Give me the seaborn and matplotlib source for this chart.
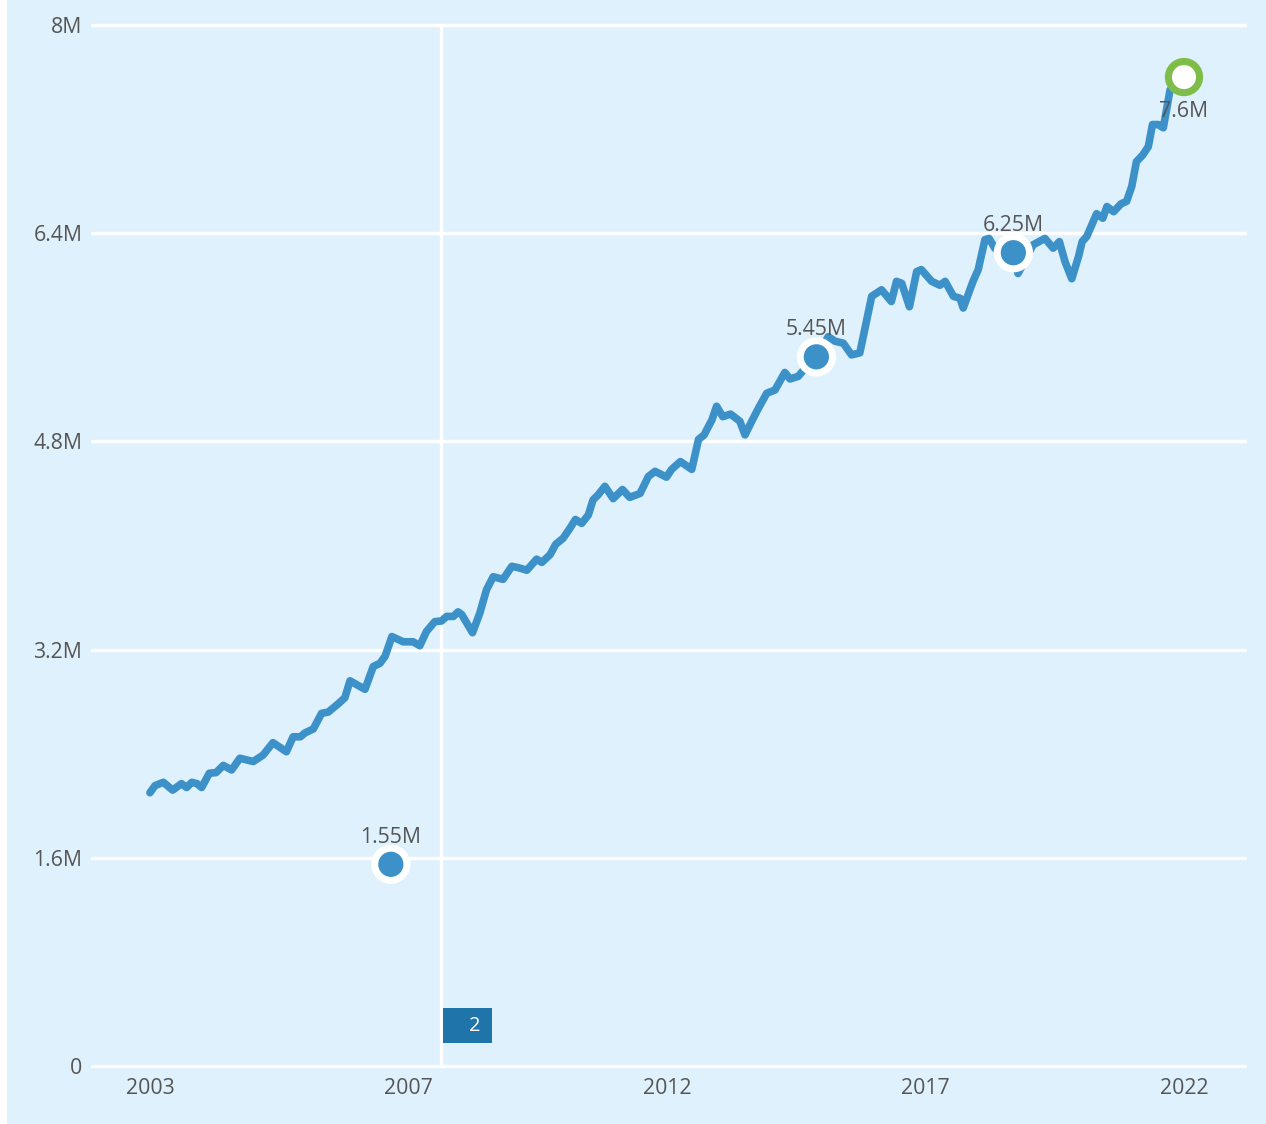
"""
Recreation of a time-series line chart with highlighted points.
"""

import matplotlib
matplotlib.use('Agg')
import matplotlib.pyplot as plt
from matplotlib.patches import Rectangle
from matplotlib.ticker import FixedLocator
import seaborn as sns
import pandas as pd

# Series (decimal year, value in millions)
years = [
    2002.00, 2002.10, 2002.26, 2002.44, 2002.61, 2002.71, 2002.81, 2002.91, 2003.00, 2003.15,
    2003.28, 2003.42, 2003.58, 2003.74, 2004.00, 2004.19, 2004.38, 2004.64, 2004.77, 2004.91,
    2005.00, 2005.16, 2005.32, 2005.45, 2005.66, 2005.77, 2005.87, 2006.16, 2006.32, 2006.45,
    2006.55, 2006.68, 2006.90, 2007.09, 2007.22, 2007.35, 2007.51, 2007.64, 2007.74, 2007.87,
    2007.96, 2008.03, 2008.24, 2008.38, 2008.51, 2008.64, 2008.83, 2009.00, 2009.12, 2009.29,
    2009.48, 2009.58, 2009.74, 2009.85, 2009.99, 2010.12, 2010.23, 2010.35, 2010.48, 2010.57,
    2010.67, 2010.80, 2010.96, 2011.14, 2011.28, 2011.48, 2011.64, 2011.77, 2011.99, 2012.09,
    2012.26, 2012.48, 2012.61, 2012.72, 2012.77, 2012.87, 2012.96, 2013.08, 2013.23, 2013.41,
    2013.51, 2013.64, 2013.77, 2013.93, 2014.09, 2014.28, 2014.38, 2014.54, 2014.70, 2014.89,
    2015.12, 2015.25, 2015.41, 2015.57, 2015.73, 2015.96, 2016.15, 2016.34, 2016.44, 2016.54,
    2016.69, 2016.83, 2016.92, 2017.12, 2017.28, 2017.38, 2017.54, 2017.67, 2017.73, 2017.92,
    2018.02, 2018.15, 2018.23, 2018.34, 2018.53, 2018.70, 2018.79, 2019.08, 2019.31, 2019.47,
    2019.59, 2019.70, 2019.83, 2019.96, 2020.03, 2020.12, 2020.31, 2020.43, 2020.51, 2020.64,
    2020.78, 2020.89, 2020.99, 2021.08, 2021.20, 2021.31, 2021.39, 2021.50, 2021.60, 2021.73,
    2022.00,
]
values = [
    2.10, 2.155, 2.18, 2.12, 2.17, 2.14, 2.18, 2.17, 2.14, 2.25,
    2.255, 2.31, 2.275, 2.365, 2.34, 2.39, 2.485, 2.415, 2.53, 2.53,
    2.56, 2.59, 2.71, 2.72, 2.79, 2.83, 2.96, 2.895, 3.07, 3.095,
    3.15, 3.30, 3.26, 3.26, 3.23, 3.34, 3.415, 3.42, 3.455, 3.455,
    3.49, 3.47, 3.33, 3.48, 3.66, 3.76, 3.74, 3.84, 3.83, 3.81,
    3.895, 3.87, 3.93, 4.01, 4.055, 4.13, 4.20, 4.17, 4.235, 4.35,
    4.39, 4.455, 4.36, 4.43, 4.37, 4.40, 4.53, 4.57, 4.525, 4.585,
    4.645, 4.585, 4.815, 4.85, 4.89, 4.965, 5.07, 4.99, 5.01, 4.955,
    4.85, 4.955, 5.055, 5.17, 5.195, 5.33, 5.28, 5.30, 5.375, 5.45,
    5.605, 5.57, 5.555, 5.465, 5.48, 5.915, 5.965, 5.875, 6.03, 6.015,
    5.835, 6.105, 6.12, 6.03, 6.00, 6.03, 5.915, 5.90, 5.825, 6.03,
    6.12, 6.35, 6.36, 6.285, 6.22, 6.20, 6.09, 6.31, 6.36, 6.285,
    6.335, 6.18, 6.05, 6.22, 6.335, 6.375, 6.55, 6.515, 6.605, 6.565,
    6.625, 6.645, 6.76, 6.95, 7.00, 7.065, 7.235, 7.235, 7.21, 7.50,
    7.60,
]

# Highlighted points
point_years = [2006.66, 2014.89, 2018.70]
point_values = [1.55, 5.45, 6.25]
point_labels = ['1.55M', '5.45M', '6.25M']
last_year = 2022.00
last_value = 7.60
last_label = '7.6M'

# Axis ticks
y_ticks = [0, 1.6, 3.2, 4.8, 6.4, 8.0]
y_tick_labels = ['0', '1.6M', '3.2M', '4.8M', '6.4M', '8M']
x_ticks = [2002, 2007, 2012, 2017, 2022]
x_tick_labels = ['2003', '2007', '2012', '2017', '2022']

marker_year = 2007.63
marker_text = '2'

BG = '#dff1fd'
LINE = '#3d91c9'
TEXT = '#555555'
FS = 15.3

sns.set_theme(style='white')
plt.rcParams['font.family'] = ['Open Sans', 'DejaVu Sans']

df = pd.DataFrame({'year': years, 'value': values})
pts = pd.DataFrame({'year': point_years, 'value': point_values})

fig = plt.figure(figsize=(12.66, 11.24), dpi=100, facecolor=BG)
fig.patches.append(Rectangle((0, 0), 7 / 1266, 1, transform=fig.transFigure,
                             facecolor='white', edgecolor='none', zorder=-1))
ax = fig.add_axes([92 / 1266, 58 / 1124, (1245 - 92) / 1266, (1066 - 25) / 1124])
ax.set_facecolor(BG)

# Gridlines
for yv in y_ticks:
    ax.axhline(yv, color='white', lw=2.4, zorder=1, clip_on=False)
ax.axvline(marker_year, color='white', lw=2.4, zorder=1)

# Main line
sns.lineplot(data=df, x='year', y='value', ax=ax, color=LINE, lw=5.5,
             solid_capstyle='round', solid_joinstyle='round', zorder=3)

# Highlighted points
sns.scatterplot(data=pts, x='year', y='value', ax=ax, s=800, color='white',
                edgecolor='none', zorder=4, clip_on=False)
sns.scatterplot(data=pts, x='year', y='value', ax=ax, s=330, color=LINE,
                edgecolor='none', zorder=5, clip_on=False)
for xv, yv, lab in zip(point_years, point_values, point_labels):
    ax.annotate(lab, (xv, yv), xytext=(0, 12), textcoords='offset points',
                ha='center', va='bottom', fontsize=FS, color=TEXT, zorder=6)

# Last point: green ring
ax.scatter([last_year], [last_value], s=760, color='#7fbd4b', edgecolor='none',
           zorder=5, clip_on=False)
ax.scatter([last_year], [last_value], s=300, color='white', edgecolor='none',
           zorder=6, clip_on=False)
ax.annotate(last_label, (last_year, last_value), xytext=(0, -17),
            textcoords='offset points', ha='center', va='top', fontsize=FS,
            color=TEXT, zorder=6)

# Marker box at the bottom
ax.add_patch(Rectangle((2007.67, 0.177), 0.95, 0.27, facecolor='#1f74aa',
                       edgecolor='none', zorder=5))
ax.text(2008.29, 0.31, marker_text, color='white', fontsize=14.5, ha='center',
        va='center', zorder=6)

ax.set_xlim(2000.88, 2023.18)
ax.set_ylim(0, 8)
ax.xaxis.set_major_locator(FixedLocator(x_ticks))
ax.set_xticklabels(x_tick_labels)
ax.yaxis.set_major_locator(FixedLocator(y_ticks))
ax.set_yticklabels(y_tick_labels)
ax.tick_params(axis='both', length=0, labelsize=FS, colors=TEXT)
ax.tick_params(axis='x', pad=9)
ax.tick_params(axis='y', pad=7)
ax.set_xlabel('')
ax.set_ylabel('')
ax.grid(False)
sns.despine(ax=ax, left=True, bottom=True)

plt.savefig('out.png', dpi=100, facecolor=BG)
